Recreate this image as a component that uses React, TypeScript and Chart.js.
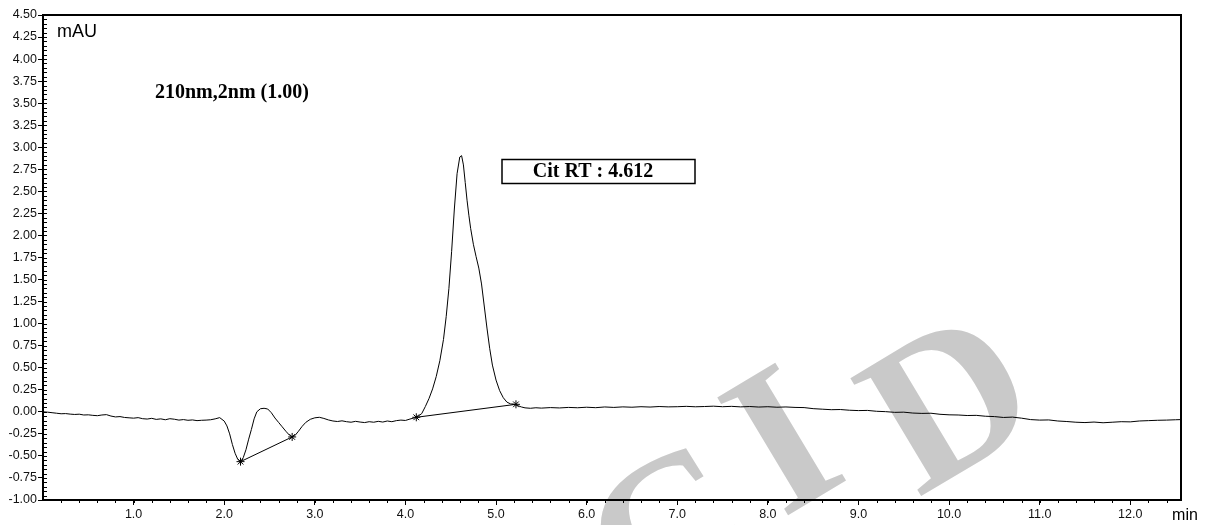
import { useEffect, useRef } from "react";
import { Chart, registerables } from "chart.js";

Chart.register(...registerables);

// ---- Data ----
const TIME_MIN = [
  0.0, 0.05, 0.1, 0.15, 0.2, 0.25, 0.3, 0.35, 0.4, 0.45,
  0.5, 0.55, 0.6, 0.65, 0.7, 0.75, 0.8, 0.85, 0.9, 0.95,
  1.0, 1.05, 1.1, 1.15, 1.2, 1.25, 1.3, 1.35, 1.4, 1.45,
  1.5, 1.55, 1.6, 1.65, 1.7, 1.75, 1.8, 1.85, 1.9, 1.95,
  2.0, 2.03, 2.06, 2.09, 2.12, 2.15, 2.18, 2.21, 2.24, 2.27,
  2.3, 2.33, 2.36, 2.4, 2.44, 2.48, 2.52, 2.56, 2.6, 2.64,
  2.68, 2.72, 2.75, 2.78, 2.82, 2.86, 2.9, 2.95, 3.0, 3.05,
  3.1, 3.15, 3.2, 3.25, 3.3, 3.35, 3.4, 3.45, 3.5, 3.55,
  3.6, 3.65, 3.7, 3.75, 3.8, 3.85, 3.9, 3.95, 4.0, 4.05,
  4.1, 4.14, 4.18, 4.22, 4.26, 4.3, 4.34, 4.38, 4.42, 4.45,
  4.48, 4.51, 4.54, 4.57, 4.6, 4.62, 4.64, 4.66, 4.68, 4.7,
  4.72, 4.75, 4.78, 4.81, 4.84, 4.87, 4.9, 4.93, 4.96, 5.0,
  5.04, 5.08, 5.12, 5.16, 5.2, 5.24, 5.28, 5.32, 5.38, 5.44,
  5.5, 5.6, 5.7, 5.8, 5.9, 6.0, 6.1, 6.2, 6.3, 6.4,
  6.5, 6.6, 6.7, 6.8, 6.9, 7.0, 7.1, 7.2, 7.3, 7.4,
  7.5, 7.6, 7.7, 7.8, 7.9, 8.0, 8.1, 8.2, 8.3, 8.4,
  8.5, 8.6, 8.7, 8.8, 8.9, 9.0, 9.1, 9.2, 9.3, 9.4,
  9.5, 9.6, 9.7, 9.8, 9.9, 10.0, 10.1, 10.2, 10.3, 10.4,
  10.5, 10.6, 10.7, 10.8, 10.9, 11.0, 11.1, 11.2, 11.3, 11.4,
  11.5, 11.6, 11.7, 11.8, 11.9, 12.0, 12.1, 12.2, 12.3, 12.4,
  12.5, 12.56,
];

const SIGNAL_MAU = [
  0.0, -0.004, -0.01, -0.016, -0.022, -0.02, -0.026, -0.03, -0.027, -0.036,
  -0.034, -0.04, -0.044, -0.036, -0.032, -0.048, -0.058, -0.054, -0.064, -0.068,
  -0.072, -0.066, -0.078, -0.082, -0.074, -0.086, -0.08, -0.09, -0.078, -0.084,
  -0.094, -0.088, -0.096, -0.092, -0.1, -0.096, -0.094, -0.09, -0.08, -0.066,
  -0.105, -0.16, -0.25, -0.37, -0.47, -0.54, -0.565, -0.52, -0.43, -0.31,
  -0.2, -0.08, 0.0, 0.035, 0.04, 0.032, -0.01, -0.07, -0.12, -0.17,
  -0.22, -0.265, -0.285, -0.27, -0.22, -0.165, -0.12, -0.085, -0.068, -0.062,
  -0.075, -0.092, -0.104, -0.11, -0.102, -0.112, -0.118, -0.108, -0.116, -0.122,
  -0.112, -0.118, -0.108, -0.116, -0.104, -0.112, -0.1, -0.094, -0.098, -0.082,
  -0.068, -0.05, -0.02, 0.06, 0.15, 0.26, 0.4, 0.58, 0.82, 1.08,
  1.4, 1.82, 2.3, 2.7, 2.89, 2.905, 2.8, 2.6, 2.4, 2.23,
  2.08, 1.9, 1.76, 1.63, 1.45, 1.2, 0.95, 0.72, 0.53, 0.36,
  0.24, 0.16, 0.11, 0.09, 0.085, 0.07, 0.055, 0.045, 0.04, 0.046,
  0.042, 0.048, 0.044, 0.05, 0.046, 0.052, 0.047, 0.055, 0.05, 0.056,
  0.052, 0.058, 0.054, 0.06, 0.056, 0.058, 0.062, 0.057, 0.06, 0.064,
  0.058, 0.062, 0.056, 0.06, 0.054, 0.058, 0.052, 0.055, 0.05, 0.048,
  0.036, 0.03, 0.024, 0.026, 0.018, 0.014, 0.016, 0.006, 0.002, -0.006,
  -0.004, -0.014, -0.018, -0.016, -0.028, -0.034, -0.036, -0.042, -0.04, -0.05,
  -0.054, -0.064, -0.06, -0.072, -0.088, -0.094, -0.092, -0.104, -0.11, -0.118,
  -0.122, -0.116, -0.124, -0.118, -0.112, -0.114, -0.104, -0.1, -0.096, -0.094,
  -0.09, -0.088,
];

// integration baselines (start/end of each drawn baseline)
const BASELINE_A_TIME = [2.18, 2.75];
const BASELINE_A_VALUE = [-0.565, -0.285];
const BASELINE_B_TIME = [4.12, 5.22];
const BASELINE_B_VALUE = [-0.062, 0.085];

// integration marks (asterisks)
const MARK_TIME = [2.18, 2.75, 4.12, 5.22];
const MARK_VALUE = [-0.565, -0.285, -0.062, 0.085];

const X_TICKS = [1, 2, 3, 4, 5, 6, 7, 8, 9, 10, 11, 12];
const X_MIN = 0;
const X_MAX = 12.56;
const Y_MIN = -1;
const Y_MAX = 4.5;
const Y_STEP = 0.25;

const AXIS_UNIT_Y = "mAU";
const AXIS_UNIT_X = "min";
const CHANNEL_LABEL = "210nm,2nm (1.00)";
const PEAK_LABEL = "Cit RT : 4.612";
const WATERMARK_LETTERS = ["C", "I", "D"];

const SANS = "'Liberation Sans', Arial, Helvetica, sans-serif";
const SERIF = "'Liberation Serif', 'Times New Roman', serif";

const toPoints = (xs: number[], ys: number[]) => xs.map((x, i) => ({ x, y: ys[i] }));

const overlayPlugin = {
  id: "chromOverlay",
  beforeDraw(chart: any) {
    const ctx = chart.ctx as CanvasRenderingContext2D;
    ctx.save();
    ctx.fillStyle = "#c9c9c9";
    ctx.font = `bold 210px ${SERIF}`;
    ctx.textBaseline = "alphabetic";
    const pos = [
      [640, 630],
      [782, 519],
      [918, 498],
    ];
    WATERMARK_LETTERS.forEach((ch, i) => {
      ctx.save();
      ctx.translate(pos[i][0], pos[i][1]);
      ctx.rotate((-31 * Math.PI) / 180);
      ctx.fillText(ch, 0, 0);
      ctx.restore();
    });
    ctx.restore();
  },
  afterDraw(chart: any) {
    const ctx = chart.ctx as CanvasRenderingContext2D;
    const a = chart.chartArea;
    const xs = chart.scales.x;
    const ys = chart.scales.y;
    ctx.save();
    ctx.strokeStyle = "#000";
    ctx.lineWidth = 1;
    ctx.beginPath();
    // minor ticks on y (inside), every 0.05
    for (let k = 0; k <= 110; k++) {
      const v = Y_MIN + k * 0.05;
      const py = Math.round(ys.getPixelForValue(v)) + 0.5;
      ctx.moveTo(a.left, py);
      ctx.lineTo(a.left + 4, py);
    }
    // minor ticks on x (outside), every 0.2
    for (let k = 1; k * 0.2 <= X_MAX; k++) {
      const px = Math.round(xs.getPixelForValue(k * 0.2)) + 0.5;
      ctx.moveTo(px, a.bottom);
      ctx.lineTo(px, a.bottom + 3);
    }
    ctx.stroke();

    // top and right frame
    ctx.lineWidth = 2;
    ctx.beginPath();
    ctx.moveTo(a.left - 1, a.top);
    ctx.lineTo(a.right, a.top);
    ctx.lineTo(a.right, a.bottom + 1);
    ctx.stroke();

    // texts
    ctx.fillStyle = "#000";
    ctx.textBaseline = "middle";
    ctx.textAlign = "left";
    ctx.font = `18px ${SANS}`;
    ctx.fillText(AXIS_UNIT_Y, 57, 32);

    ctx.font = `bold 20px ${SERIF}`;
    ctx.fillText(CHANNEL_LABEL, 155, 93);

    ctx.lineWidth = 1.5;
    ctx.strokeRect(502, 159.5, 193, 24);
    ctx.textAlign = "center";
    ctx.fillText(PEAK_LABEL, 593, 172);

    ctx.font = `16px ${SANS}`;
    ctx.fillText(AXIS_UNIT_X, 1185, 516);
    ctx.restore();
  },
};

export default function App() {
  const canvasRef = useRef<HTMLCanvasElement | null>(null);

  useEffect(() => {
    document.body.style.margin = "0";
    const canvas = canvasRef.current;
    if (!canvas) return;
    const chart = new Chart(canvas, {
      type: "scatter",
      data: {
        datasets: [
          {
            label: "trace",
            data: toPoints(TIME_MIN, SIGNAL_MAU),
            showLine: true,
            borderColor: "#000",
            borderWidth: 1,
            pointRadius: 0,
            tension: 0,
          },
          {
            label: "baselineA",
            data: toPoints(BASELINE_A_TIME, BASELINE_A_VALUE),
            showLine: true,
            borderColor: "#000",
            borderWidth: 1,
            pointRadius: 0,
          },
          {
            label: "baselineB",
            data: toPoints(BASELINE_B_TIME, BASELINE_B_VALUE),
            showLine: true,
            borderColor: "#000",
            borderWidth: 1,
            pointRadius: 0,
          },
          {
            label: "marks",
            data: toPoints(MARK_TIME, MARK_VALUE),
            showLine: false,
            pointStyle: "star",
            pointRadius: 4,
            borderColor: "#000",
            backgroundColor: "#000",
            borderWidth: 1,
          },
        ],
      },
      options: {
        animation: false,
        responsive: false,
        maintainAspectRatio: false,
        events: [],
        layout: { padding: { left: 0, top: 15, right: 24, bottom: 0 } },
        plugins: {
          legend: { display: false },
          tooltip: { enabled: false },
        },
        scales: {
          x: {
            type: "linear",
            min: X_MIN,
            max: X_MAX,
            afterBuildTicks: (s: any) => {
              s.ticks = X_TICKS.map((v) => ({ value: v }));
            },
            afterFit: (s: any) => {
              s.height = 25;
            },
            ticks: {
              autoSkip: false,
              maxRotation: 0,
              padding: 2,
              color: "#111",
              font: { family: SANS, size: 12.5 },
              callback: (v: any) => Number(v).toFixed(1),
            },
            grid: {
              drawOnChartArea: false,
              drawTicks: true,
              tickLength: 5,
              color: "#000",
              lineWidth: 1,
            },
            border: { display: true, color: "#000", width: 2 },
          },
          y: {
            type: "linear",
            min: Y_MIN,
            max: Y_MAX,
            afterFit: (s: any) => {
              s.width = 43;
            },
            ticks: {
              stepSize: Y_STEP,
              autoSkip: false,
              padding: 1,
              color: "#111",
              font: { family: SANS, size: 12.5 },
              callback: (v: any) => Number(v).toFixed(2),
            },
            grid: {
              drawOnChartArea: false,
              drawTicks: true,
              tickLength: 5,
              color: "#000",
              lineWidth: 1,
            },
            border: { display: true, color: "#000", width: 2 },
          },
        },
      },
      plugins: [overlayPlugin],
    });
    return () => chart.destroy();
  }, []);

  return (
    <div style={{ width: 1205, height: 525, background: "#fff" }}>
      <canvas ref={canvasRef} width={1205} height={525} style={{ display: "block" }} />
    </div>
  );
}
